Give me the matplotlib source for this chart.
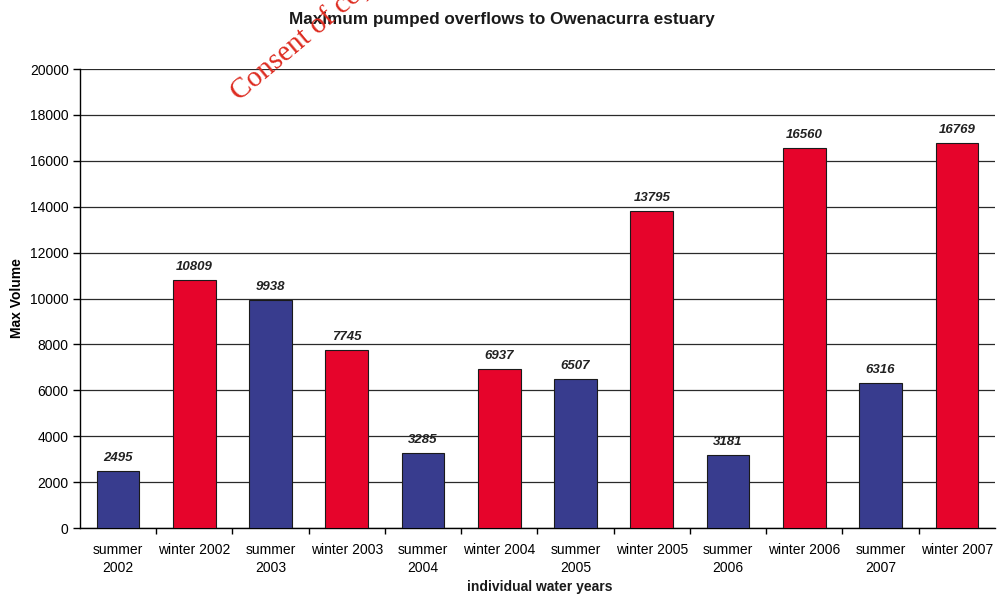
import matplotlib.pyplot as plt
import numpy as np

plt.rcParams['font.family'] = ['Liberation Sans', 'DejaVu Sans']

seasons = ['summer\n2002', 'winter 2002', 'summer\n2003', 'winter 2003',
           'summer\n2004', 'winter 2004', 'summer\n2005', 'winter 2005',
           'summer\n2006', 'winter 2006', 'summer\n2007', 'winter 2007']
max_volume = [2495, 10809, 9938, 7745, 3285, 6937, 6507, 13795, 3181, 16560, 6316, 16769]
is_winter = [False, True, False, True, False, True, False, True, False, True, False, True]

red = '#e6042b'
blue = '#383c8e'

fig = plt.figure(figsize=(9.98, 5.95), dpi=100)
ax = fig.add_axes([0.080, 0.1126, 0.917, 0.7714])

x = np.arange(len(seasons))
colors = [red if w else blue for w in is_winter]
bars = ax.bar(x, max_volume, width=0.56, color=colors, edgecolor='#1a1a1a',
              linewidth=0.8, zorder=3)

for xi, v in zip(x, max_volume):
    ax.annotate(str(v), (xi, v), xytext=(0, 5), textcoords='offset points',
                ha='center', va='bottom', fontsize=9.5, fontweight='bold',
                fontstyle='italic', color='#222222', zorder=4)

ax.set_xlim(-0.5, len(seasons) - 0.5)
ax.set_ylim(0, 20000)
ax.set_yticks(np.arange(0, 20001, 2000))
ax.tick_params(axis='y', labelsize=10, length=5, width=1, direction='out', pad=3)
ax.yaxis.grid(True, color='#2a2a2a', linewidth=0.9, zorder=0)

# category labels at the bar centres, tick marks between categories
ax.set_xticks(x)
ax.set_xticklabels(seasons, fontsize=10, linespacing=1.3, va='top')
ax.tick_params(axis='x', length=0, pad=11)
ax.set_xticks(np.arange(0.5, len(seasons) - 0.5, 1), minor=True)
ax.tick_params(axis='x', which='minor', length=4, width=1, direction='out')

for side in ['top', 'right']:
    ax.spines[side].set_visible(False)
ax.spines['left'].set_linewidth(1)
ax.spines['bottom'].set_linewidth(1)

ax.set_ylabel('Max Volume', fontsize=10, fontweight='bold', labelpad=4)
fig.text(0.541, 0.013, 'individual water years', ha='center', va='center',
         fontsize=10, fontweight='bold', color='#1a1a1a')

fig.text(0.503, 0.968, 'Maximum pumped overflows to Owenacurra estuary',
         ha='center', va='center', fontsize=12.3, fontweight='bold', color='#1a1a1a')

# red stamp across the top
fig.text(0.240, 0.830, 'Consent of copyright owner required for any other use.',
         rotation=40, rotation_mode='anchor', ha='left', va='baseline',
         fontsize=21, family='Liberation Serif', color='#dd2a1f')

plt.savefig('out.png', dpi=100)
